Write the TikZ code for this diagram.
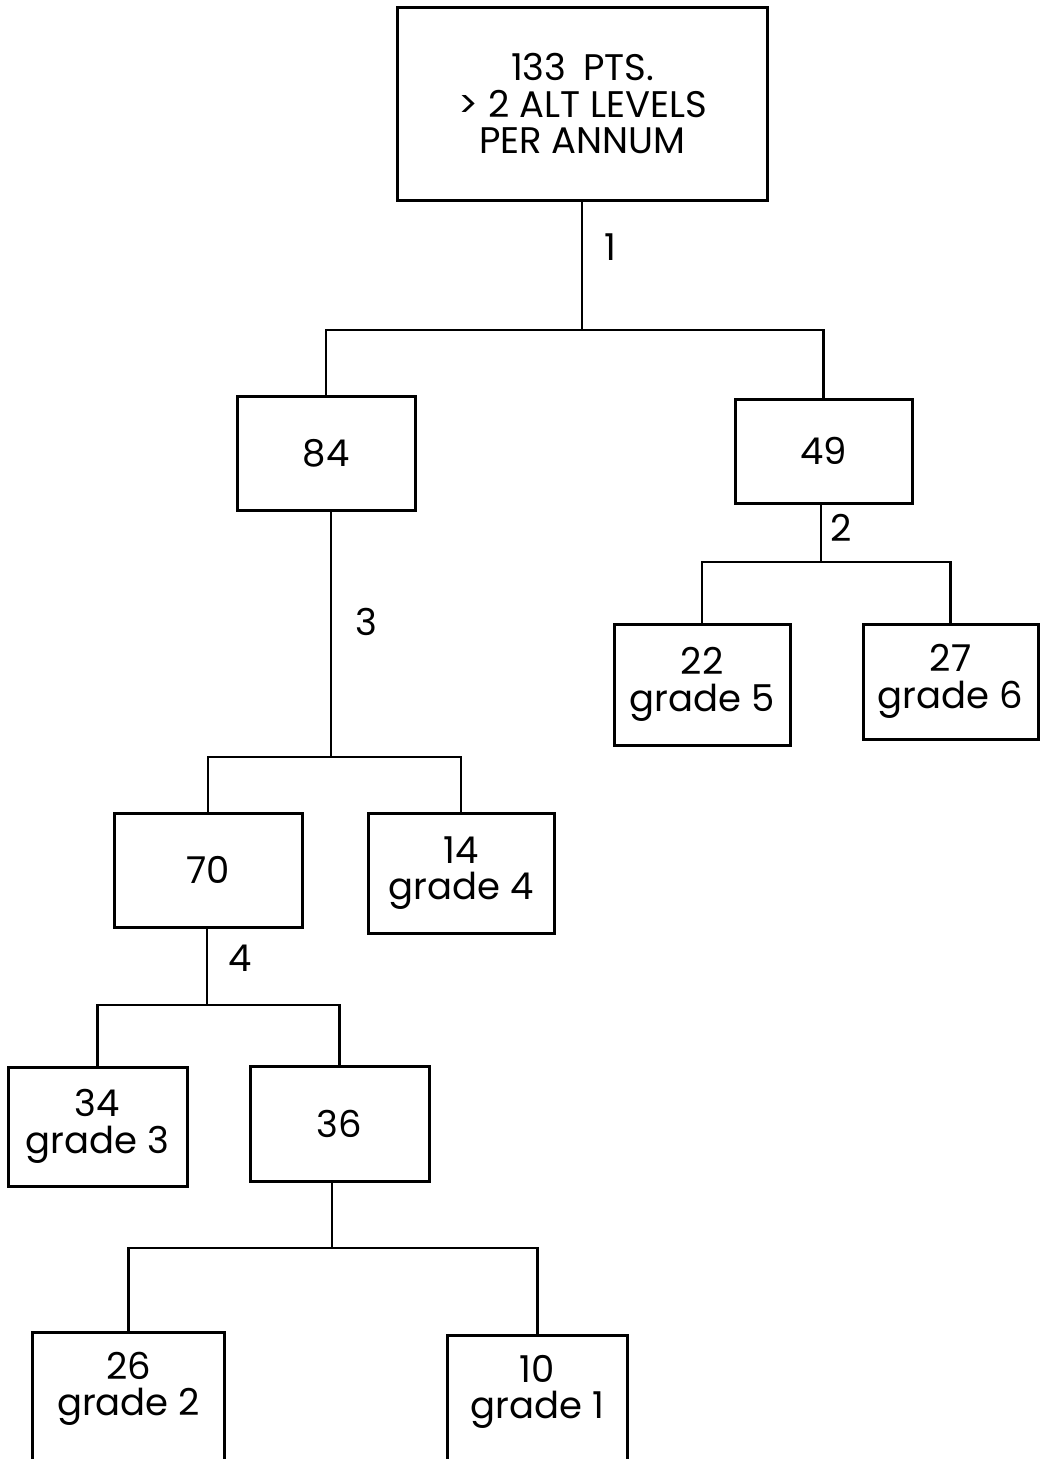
\documentclass[tikz,border=0pt]{standalone}
\usepackage{fontspec}
\setmainfont{Poppins}
\begin{document}
\begin{tikzpicture}[x=1pt,y=-1pt,
  txt/.style={font=\fontsize{37}{36.5}\selectfont},
  box/.style={txt, draw, line width=3pt, inner sep=0pt, align=center},
  openbox/.style={txt, inner sep=0pt, align=center},
  conn/.style={line width=2.8pt},
  lbl/.style={txt, inner sep=0pt}]
\useasboundingbox (0,0) rectangle (1044,1459);
\clip (0,0) rectangle (1044,1459);
\fill[white] (0,0) rectangle (1044,1459);

% boxes
\node[box, minimum width=370pt, minimum height=193pt] (top) at (582.5,103.5) {133\hspace{0.45em}PTS.\\> 2 ALT LEVELS\\PER ANNUM};
\node[box, minimum width=178pt, minimum height=114pt] (n84) at (326,453) {84};
\node[box, minimum width=177pt, minimum height=104pt] (n49) at (823.5,451) {49};
\node[box, minimum width=176pt, minimum height=121pt] (n22) at (702,684.5) {22\\grade 5};
\node[box, minimum width=175pt, minimum height=115pt] (n27) at (950.5,681.5) {27\\grade 6};
\node[box, minimum width=188pt, minimum height=114pt] (n70) at (208,870) {70};
\node[box, minimum width=186pt, minimum height=120pt] (n14) at (461,873) {14\\grade 4};
\node[box, minimum width=179pt, minimum height=119pt] (n34) at (97.5,1126.5) {34\\grade 3};
\node[box, minimum width=179pt, minimum height=115pt] (n36) at (339.5,1123.5) {36};
\node[openbox, minimum width=191pt, minimum height=112pt] (n26) at (128.5,1389) {26\\grade 2};
\node[openbox, minimum width=179pt, minimum height=112pt] (n10) at (537.5,1392) {10\\grade 1};
\draw[line width=3pt] ([yshift=-60pt]n26.south west) -- (n26.north west) -- (n26.north east) -- ([yshift=-60pt]n26.south east);
\draw[line width=3pt] ([yshift=-60pt]n10.south west) -- (n10.north west) -- (n10.north east) -- ([yshift=-60pt]n10.south east);

% junction coordinates
\coordinate (j1) at (582,330);
\coordinate (j2) at (821,562);
\coordinate (j3) at (331,757);
\coordinate (j4) at (207,1005);
\coordinate (j5) at (332,1248);

% connectors
\draw[conn] (top.south -| j1) -- (j1);
\draw[conn] (n84.north) |- (j1) -| (n49.north);
\draw[conn] (n49.south -| j2) -- (j2);
\draw[conn] (n22.north) |- (j2) -| (n27.north);
\draw[conn] (n84.south -| j3) -- (j3);
\draw[conn] (n70.north) |- (j3) -| (n14.north);
\draw[conn] (n70.south -| j4) -- (j4);
\draw[conn] (n34.north) |- (j4) -| (n36.north);
\draw[conn] (n36.south -| j5) -- (j5);
\draw[conn] (n26.north) |- (j5) -| (n10.north);

% connector labels
\node[lbl] (l1) at (610,247) {1};
\node[lbl] (l2) at (841,528) {2};
\node[lbl] (l3) at (366,622) {3};
\node[lbl] (l4) at (240,958) {4};
\end{tikzpicture}
\end{document}
